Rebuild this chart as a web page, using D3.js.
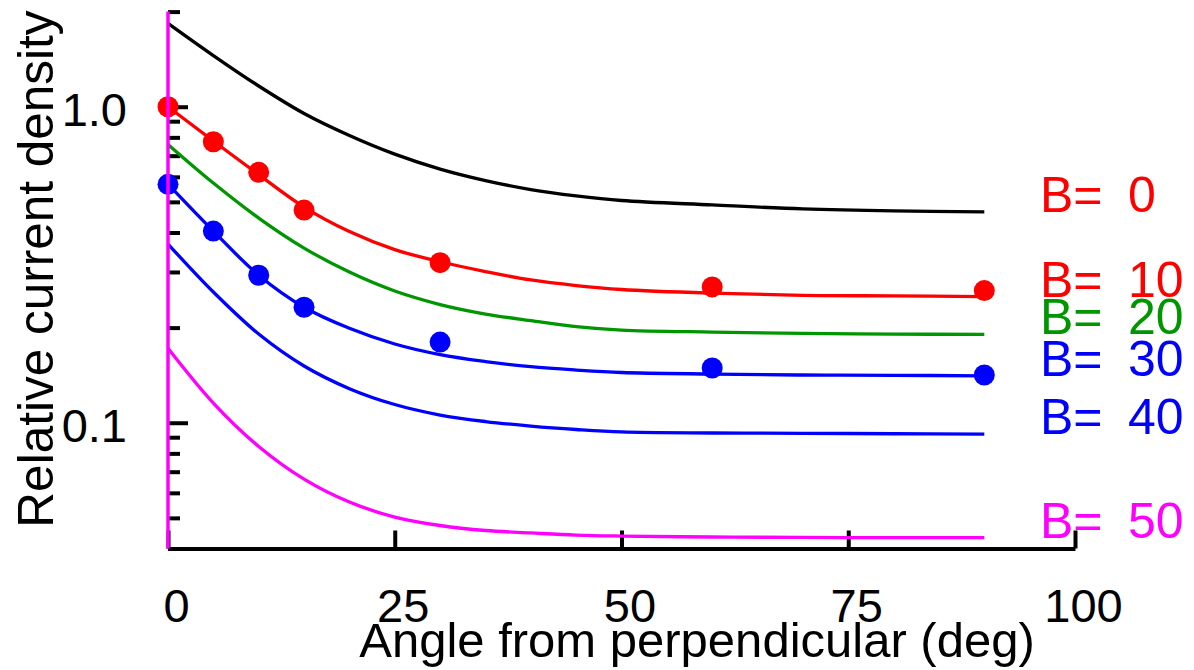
<!DOCTYPE html>
<html>
<head>
<meta charset="utf-8">
<script src="https://cdn.jsdelivr.net/npm/d3@7"></script>
<style>
  html, body { margin: 0; padding: 0; background: #fff; }
  svg { display: block; }
  text { font-family: "Liberation Sans", Arial, sans-serif; }
</style>
</head>
<body>
<svg id="chart" width="1194" height="670"></svg>
<script>
// ---- data ----
const angles = [0, 5, 10, 15, 20, 25, 30, 35, 40, 45, 50, 60, 70, 80, 90];
const curveB0  = [1.836, 1.452, 1.163, 0.952, 0.811, 0.708, 0.635, 0.584, 0.547, 0.5224, 0.505, 0.489, 0.475, 0.468, 0.465];
const curveB10 = [1.000, 0.779, 0.610, 0.4815, 0.4028, 0.3532, 0.3232, 0.301, 0.283, 0.2717, 0.264, 0.257, 0.253, 0.252, 0.2505];
const curveB20 = [0.760, 0.5735, 0.4444, 0.3571, 0.2998, 0.2611, 0.2366, 0.2208, 0.2105, 0.2015, 0.1965, 0.1936, 0.1918, 0.1908, 0.1904];
const curveB30 = [0.569, 0.404, 0.293, 0.232, 0.199, 0.1775, 0.1643, 0.1562, 0.1504, 0.1468, 0.1442, 0.1426, 0.1416, 0.1413, 0.1408];
const curveB40 = [0.3677, 0.2592, 0.1908, 0.1512, 0.1282, 0.1142, 0.1058, 0.1009, 0.0976, 0.0952, 0.0935, 0.0928, 0.0926, 0.0923, 0.0921];
const curveB50 = [0.172, 0.1154, 0.0841, 0.0663, 0.0561, 0.0503, 0.0473, 0.0456, 0.0448, 0.0441, 0.0438, 0.0435, 0.04336, 0.0433, 0.0433];

const measAngles = [0, 5, 10, 15, 30, 60, 90];
const measB10 = [1.000, 0.775, 0.620, 0.471, 0.321, 0.269, 0.262];
const measB30 = [0.568, 0.404, 0.293, 0.232, 0.180, 0.149, 0.1416];

const seriesLabels = ["B= 0", "B= 10", "B= 20", "B= 30", "B= 40", "B= 50"];
const lineColors  = ["#000000", "#ff0000", "#009600", "#0000ff", "#0000ff", "#ff00ff"];
const labelColors = ["#ff0000", "#ff0000", "#009600", "#0000ff", "#0000ff", "#ff00ff"];

const xTicks = [0, 25, 50, 75, 100];
const yMajorTicks = [0.1, 1.0];
const yMajorLabels = ["0.1", "1.0"];
const yMinorTicks = [0.04, 0.05, 0.06, 0.07, 0.08, 0.09, 0.2, 0.3, 0.4, 0.5, 0.6, 0.7, 0.8, 0.9, 2];

const xTitle = "Angle from perpendicular (deg)";
const yTitle = "Relative current density";

// ---- chart ----
const svg = d3.select("#chart");
const x = d3.scaleLinear().domain([0, 100]).range([168, 1075]);
const y = d3.scaleLog().domain([0.04, 2]).range([548.5, 11.6]);

const curves = [curveB0, curveB10, curveB20, curveB30, curveB40, curveB50];

const line = d3.line()
  .x(d => x(d[0]))
  .y(d => y(d[1]))
  .curve(d3.curveCatmullRom.alpha(0.5));

// x axis (ticks pointing up)
const xAxisG = svg.append("g")
  .attr("transform", `translate(0,${y(0.04)})`)
  .call(d3.axisBottom(x).tickValues(xTicks).tickSize(-18).tickSizeOuter(0).tickFormat(d3.format("d")));
xAxisG.select(".domain").attr("stroke", "#000").attr("stroke-width", 4);
xAxisG.selectAll(".tick line").attr("stroke", "#000").attr("stroke-width", 4);
xAxisG.selectAll(".tick text")
  .attr("y", 622 - y(0.04)).attr("dy", 0).attr("dx", 8)
  .attr("fill", "#000")
  .style("font-size", "47px");

// y axis minor ticks
const yMinorG = svg.append("g")
  .attr("transform", `translate(${x(0)},0)`)
  .call(d3.axisLeft(y).tickValues(yMinorTicks).tickSize(-12).tickSizeOuter(0).tickFormat(""));
yMinorG.select(".domain").remove();
yMinorG.selectAll(".tick line").attr("stroke", "#000").attr("stroke-width", 4);

// y axis major ticks with labels
const yMajorG = svg.append("g")
  .attr("transform", `translate(${x(0)},0)`)
  .call(d3.axisLeft(y).tickValues(yMajorTicks).tickSize(-20).tickSizeOuter(0)
    .tickPadding(41).tickFormat((d, i) => yMajorLabels[i]));
yMajorG.select(".domain").remove();
yMajorG.selectAll(".tick line").attr("stroke", "#000").attr("stroke-width", 4);
yMajorG.selectAll(".tick text")
  .attr("dy", "18.5px")
  .attr("fill", "#000")
  .style("font-size", "47px");

// curves
curves.forEach((c, i) => {
  svg.append("path")
    .datum(angles.map((a, j) => [a, c[j]]))
    .attr("fill", "none")
    .attr("stroke", lineColors[i])
    .attr("stroke-width", 3.3)
    .attr("d", line);
});

// measured points
svg.append("g").selectAll("circle")
  .data(measAngles.map((a, j) => [a, measB10[j]]))
  .join("circle")
  .attr("cx", d => x(d[0])).attr("cy", d => y(d[1])).attr("r", 10.5)
  .attr("fill", "#ff0000");
svg.append("g").selectAll("circle")
  .data(measAngles.map((a, j) => [a, measB30[j]]))
  .join("circle")
  .attr("cx", d => x(d[0])).attr("cy", d => y(d[1])).attr("r", 10.5)
  .attr("fill", "#0000ff");

// y axis line (magenta, on top)
svg.append("line")
  .attr("x1", x(0)).attr("x2", x(0))
  .attr("y1", y(2)).attr("y2", y(0.04))
  .attr("stroke", "#ff00ff").attr("stroke-width", 3.5);

// series labels at the end of each curve
curves.forEach((c, i) => {
  const parts = seriesLabels[i].split(" ");
  const t = svg.append("text")
    .attr("y", y(c[c.length - 1]))
    .attr("fill", labelColors[i])
    .style("font-size", "50px");
  t.append("tspan").attr("x", 1040).text(parts[0] + " ");
  t.append("tspan").attr("x", 1128).text(parts[1]);
});

// axis titles
svg.append("text")
  .attr("x", 697).attr("y", 657)
  .attr("text-anchor", "middle")
  .attr("fill", "#000")
  .style("font-size", "49px")
  .text(xTitle);

svg.append("text")
  .attr("transform", "translate(53,269) rotate(-90)")
  .attr("text-anchor", "middle")
  .attr("fill", "#000")
  .style("font-size", "49.5px")
  .text(yTitle);
</script>
</body>
</html>
